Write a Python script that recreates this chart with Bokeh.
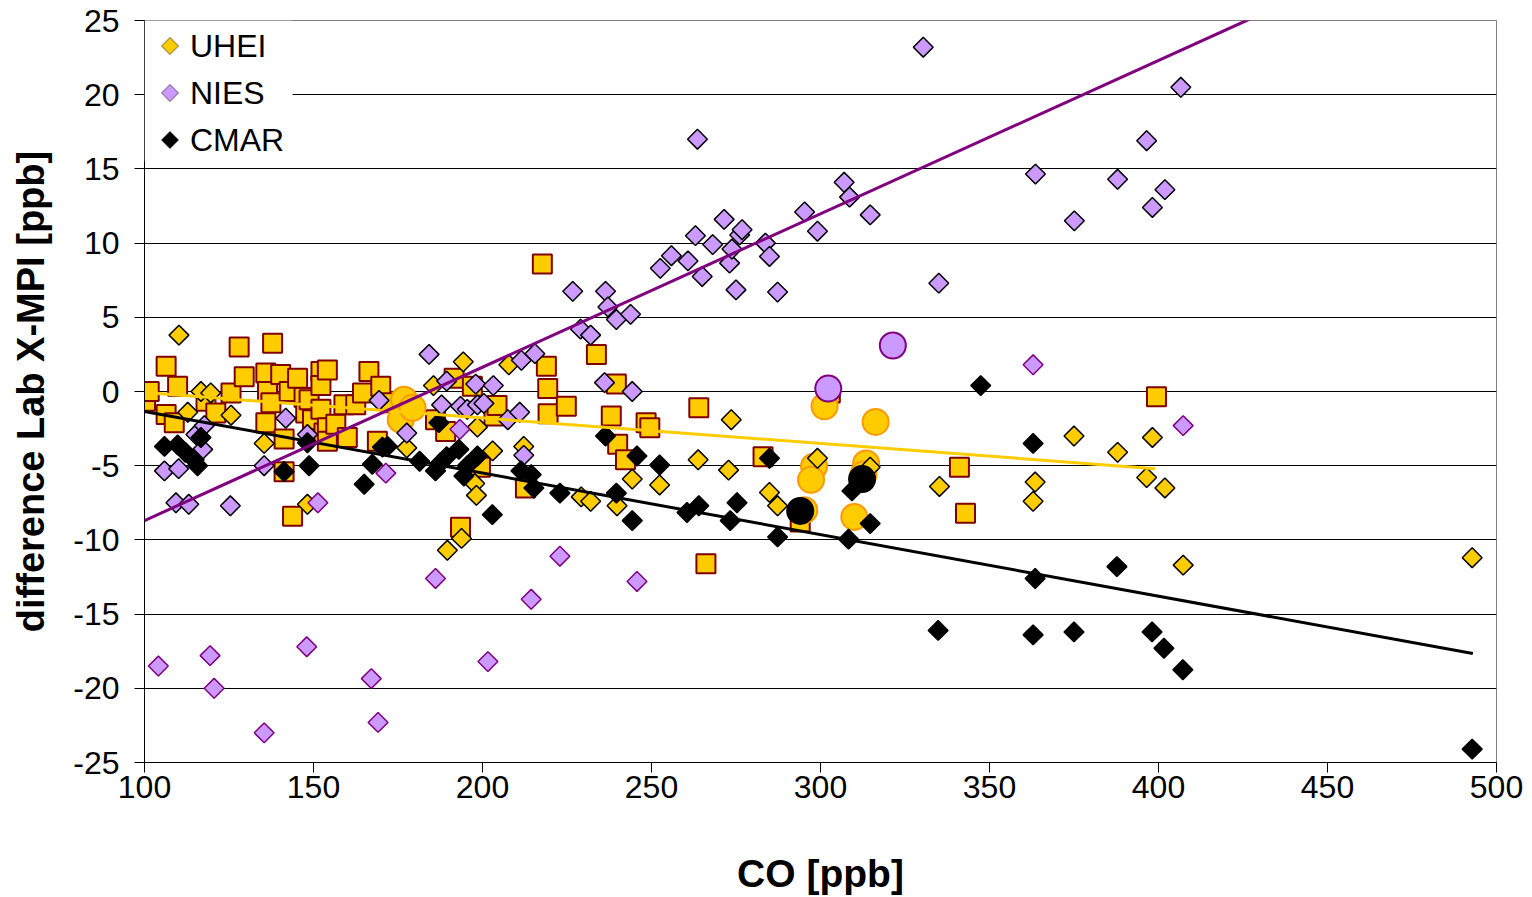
import numpy as np
from bokeh.plotting import figure
from bokeh.models import Legend, LegendItem, Range1d, FixedTicker, PolyAnnotation, BoxAnnotation
from bokeh.embed import file_html
from bokeh.resources import INLINE

# ---------------- data ----------------
x_ticks = [100, 150, 200, 250, 300, 350, 400, 450, 500]
y_ticks = [-25, -20, -15, -10, -5, 0, 5, 10, 15, 20, 25]
y_tick_labels = ["-25", "-20", "-15", "-10", "-5", "0", "5", "10", "15", "20", "25"]

# UHEI (diamonds)
uhei_x = [110.2, 112.8, 116.7, 119.6, 125.6, 135.4, 148.2, 177.6, 185.5, 189.6, 193.8, 194.3,
          197.7, 198.2, 198.5, 203.0, 207.8, 212.2, 229.2, 232.0, 239.8, 244.3, 252.4, 263.8,
          272.8, 273.6, 284.9, 287.3, 299.1, 314.7, 335.2, 362.9, 363.5, 375.0, 387.9, 396.5,
          398.2, 401.9, 407.3, 492.8]
uhei_y = [3.8, -1.4, 0.0, -0.1, -1.6, -3.5, -7.6, -3.8, 0.4, -10.7, -9.9, 2.0,
          -6.2, -7.0, -2.4, -4.0, 1.8, -3.7, -7.1, -7.4, -7.7, -5.9, -6.3, -4.6,
          -5.3, -1.9, -6.8, -7.7, -4.5, -5.1, -6.4, -7.4, -6.1, -3.0, -4.1, -5.8,
          -3.1, -6.5, -11.7, -11.2]

# UHEI (squares)
uhei_sq_x = [100.3, 101.4, 106.4, 106.4, 108.8, 109.8, 118.2, 121.1, 125.6, 128.0, 129.5, 135.9,
             135.9, 136.4, 137.4, 137.9, 140.3, 141.3, 141.3, 143.8, 142.8, 145.3, 147.2, 147.7,
             148.7, 149.7, 152.2, 152.2, 152.2, 153.1, 154.1, 154.1, 154.1, 156.6, 159.0, 160.0,
             162.5, 164.5, 166.4, 168.9, 169.9, 172.8, 186.1, 189.1, 191.6, 193.5, 197.0, 199.4,
             203.4, 204.3, 212.7, 217.7, 218.9, 219.3, 219.4, 224.8, 233.7, 238.1, 239.6, 240.0,
             242.3, 248.4, 249.5, 264.0, 266.1, 283.0, 294.0, 302.9, 341.1, 342.9, 399.4]
uhei_sq_y = [-0.65, 0.0, 1.7, -1.55, -2.1, 0.35, -0.65, -1.45, -0.1, 3.0, 1.0, 1.25,
             -2.1, 0.0, -0.75, 3.25, 1.15, -3.2, -5.4, -8.4, 0.0, 0.9, -0.4, -1.45,
             -0.55, -1.9, 1.35, 0.4, -1.2, -2.8, 1.45, -2.45, -3.35, -2.2, -0.9, -3.1,
             -0.9, -0.1, 1.35, -3.35, 0.35, -0.75, -1.9, -2.7, 0.9, -9.15, 0.35, -5.1,
             -1.65, -0.95, -6.5, 8.6, 1.7, 0.2, -1.5, -1.0, 2.5, -1.65, 0.5, -3.55,
             -4.6, -2.1, -2.45, -1.1, -11.6, -4.4, -8.8, -0.1, -5.1, -8.2, -0.35]

# UHEI (circles)
uhei_c_x = [176.8, 175.8, 179.3, 301.2, 316.3, 298.1, 297.2, 313.5, 312.7, 295.2, 310.0]
uhei_c_y = [-0.55, -1.9, -1.1, -1.0, -2.05, -5.05, -5.95, -4.85, -5.6, -8.0, -8.45]

# NIES (diamonds, black outline)
nies_x = [105.9, 110.1, 109.3, 113.1, 115.2, 117.7, 117.2, 125.4, 135.4, 141.8, 148.2, 169.4,
          177.6, 184.2, 187.9, 189.4, 193.5, 195.5, 198.0, 198.5, 200.4, 203.2, 207.5, 211.0,
          211.5, 212.2, 215.5, 226.7, 229.0, 232.0, 236.4, 237.1, 239.6, 243.8, 236.1, 244.3,
          252.6, 255.9, 260.8, 263.0, 263.6, 265.0, 268.1, 271.5, 273.1, 273.8, 275.0, 276.1,
          276.8, 283.7, 284.9, 287.3, 295.3, 299.1, 307.0, 308.6, 314.7, 330.4, 335.0, 363.6,
          375.1, 387.9, 396.5, 398.2, 401.9, 406.6]
nies_y = [-5.35, -5.2, -7.5, -7.6, -2.9, -2.3, -3.9, -7.7, -5.0, -1.8, -2.9, -0.6,
          -2.8, 2.5, -0.9, 0.7, -1.0, -1.2, 0.5, -0.9, -0.8, 0.4, -1.9, -1.4,
          2.1, -4.3, 2.55, 6.75, 4.2, 3.8, 6.75, 5.7, 4.85, 5.2, 0.6, 0.0,
          8.3, 9.15, 8.8, 10.5, 17.0, 7.75, 9.9, 11.6, 8.65, 9.6, 6.85, 10.55,
          10.9, 10.0, 9.1, 6.7, 12.1, 10.8, 14.1, 13.1, 11.9, 23.2, 7.3, 14.65,
          11.5, 14.3, 16.9, 12.4, 13.6, 20.5]

# NIES (diamonds, purple outline)
nies_b_x = [104.1, 119.4, 120.6, 135.4, 148.0, 151.3, 167.1, 169.1, 171.4, 186.1, 193.3, 201.6,
            214.4, 222.9, 245.7, 362.9, 407.3]
nies_b_y = [-18.5, -17.8, -20.0, -23.0, -17.2, -7.5, -19.35, -22.3, -5.5, -12.6, -2.55, -18.2,
            -14.0, -11.1, -12.8, 1.8, -2.3]

# NIES (circles)
nies_c_x = [302.3, 321.4]
nies_c_y = [0.2, 3.1]

# CMAR (diamonds)
cmar_x = [105.9, 109.8, 112.1, 114.7, 115.7, 116.7, 141.3, 148.7, 148.2, 165.0, 167.4, 170.4,
          171.9, 181.4, 186.1, 187.1, 187.6, 189.4, 193.0, 194.5, 195.5, 198.5, 202.9, 211.4,
          214.4, 215.2, 222.9, 236.4, 239.6, 244.3, 245.7, 252.4, 260.5, 264.0, 273.3, 275.3,
          284.9, 287.3, 308.3, 309.3, 314.7, 334.8, 347.4, 362.9, 363.5, 362.9, 375.0, 387.7,
          398.1, 401.6, 407.2, 492.8]
cmar_y = [-3.7, -3.6, -4.1, -4.6, -5.0, -3.1, -5.4, -5.0, -3.45, -6.25, -4.9, -3.75,
          -3.7, -4.7, -5.35, -2.1, -4.8, -4.4, -3.9, -5.7, -5.0, -4.35, -8.3, -5.35,
          -5.6, -6.5, -6.85, -3.0, -6.85, -8.7, -4.35, -4.95, -8.15, -7.7, -8.7, -7.5,
          -4.5, -9.8, -9.95, -6.7, -8.9, -16.1, 0.4, -3.5, -12.6, -16.4, -16.2, -11.8,
          -16.2, -17.3, -18.75, -24.1]

# CMAR (circles)
cmar_c_x = [294.0, 312.3]
cmar_c_y = [-8.05, -5.9]

# trend lines (end points)
uhei_fit_x = [102, 399]
uhei_fit_y = [-0.1, -5.2]
nies_fit_x = [100, 427]
nies_fit_y = [-8.7, 25.1]
cmar_fit_x = [100, 493]
cmar_fit_y = [-1.35, -17.65]

legend_labels = ["UHEI", "NIES", "CMAR"]

# ---------------- figure ----------------
FONT = "Liberation Sans"
YELLOW = "#FFCC00"
LILAC = "#CC99FF"
PURPLE = "#800080"

X0, X1, Y0, Y1 = 100, 500, -25, 25
BL, BR, BT, BB = 144, 34, 20, 133
W, H = 1530, 897

p = figure(width=W, height=H, output_backend="svg", toolbar_location=None,
           x_range=Range1d(X0, X1), y_range=Range1d(Y0, Y1),
           min_border_left=BL, min_border_right=BR, min_border_top=BT, min_border_bottom=BB)
p.background_fill_color = "white"
p.border_fill_color = "white"
p.outline_line_color = "#808080"
p.outline_line_width = 1

p.xaxis.ticker = FixedTicker(ticks=x_ticks)
p.yaxis.ticker = FixedTicker(ticks=y_ticks)
p.yaxis.major_label_overrides = {t: s for t, s in zip(y_ticks, y_tick_labels)}
p.xgrid.visible = False
p.ygrid.ticker = FixedTicker(ticks=y_ticks)
p.ygrid.grid_line_color = "black"
p.ygrid.grid_line_width = 1

for ax in (p.xaxis[0], p.yaxis[0]):
    ax.axis_line_color = "black"
    ax.axis_line_width = 1
    ax.major_tick_line_color = "black"
    ax.major_tick_out = 10
    ax.major_tick_in = 0
    ax.minor_tick_line_color = None
    ax.major_label_text_font = FONT
    ax.major_label_text_font_size = "32px"
    ax.major_label_text_color = "black"
    ax.axis_label_text_font = FONT
    ax.axis_label_text_font_style = "bold"
    ax.axis_label_text_color = "black"

p.xaxis.axis_label = "CO [ppb]"
p.yaxis.axis_label = "difference Lab X-MPI [ppb]"
p.xaxis.axis_label_text_font_size = "39px"
p.yaxis.axis_label_text_font_size = "38px"
p.xaxis.major_label_standoff = 3
p.yaxis.major_label_standoff = 15
p.xaxis.axis_label_standoff = 51
p.yaxis.axis_label_standoff = 18

DIAM = dict(marker="square", angle=np.pi / 4, size=14, line_width=1.5)

p.scatter(uhei_sq_x, uhei_sq_y, marker="square", size=19, fill_color=YELLOW,
          line_color="#800000", line_width=2)
p.scatter(uhei_c_x, uhei_c_y, marker="circle", size=26, fill_color=YELLOW,
          line_color="#FF9900", line_width=2)
p.scatter(uhei_x, uhei_y, fill_color=YELLOW, line_color="black", **DIAM)
p.scatter(nies_x, nies_y, fill_color=LILAC, line_color="black", **DIAM)
p.scatter(nies_b_x, nies_b_y, fill_color=LILAC, line_color=PURPLE, **DIAM)
p.scatter(cmar_x, cmar_y, fill_color="black", line_color="black", **DIAM)
p.scatter(nies_c_x, nies_c_y, marker="circle", size=26, fill_color=LILAC,
          line_color=PURPLE, line_width=2)
p.scatter(cmar_c_x, cmar_c_y, marker="circle", size=26, fill_color="black",
          line_color="black", line_width=2)

p.line(uhei_fit_x, uhei_fit_y, line_color=YELLOW, line_width=3)
p.line(cmar_fit_x, cmar_fit_y, line_color="black", line_width=3)
p.line(nies_fit_x, nies_fit_y, line_color=PURPLE, line_width=3)

# ---- legend ----
legend_fill = [YELLOW, LILAC, "black"]
proxies = [p.scatter(uhei_x[:1], uhei_y[:1], marker="diamond", fill_alpha=0,
                     line_alpha=0, visible=False) for _ in legend_fill]

PAD, GLYPH, SPACING = 8, 35, 10
fw = W - BL - BR
fh = H - BT - BB

def px_to_x(dx):
    return X0 + dx * (X1 - X0) / fw

def px_to_y(dy):
    return Y1 - dy * (Y1 - Y0) / fh

# white legend box (behind keys and text)
legend_w, legend_h = 148, 141
p.add_layout(BoxAnnotation(left=X0, right=px_to_x(legend_w), top=Y1, bottom=px_to_y(legend_h),
                           fill_color="white", fill_alpha=1, line_alpha=0,
                           level="annotation"))

legend = Legend(items=[LegendItem(label=lab, renderers=[r]) for lab, r in zip(legend_labels, proxies)],
                location="top_left", margin=0, padding=PAD, spacing=SPACING,
                glyph_width=GLYPH, glyph_height=GLYPH, label_standoff=3,
                label_text_font=FONT, label_text_font_size="32px", label_text_color="black",
                border_line_alpha=0, background_fill_alpha=0,
                inactive_fill_alpha=0)
p.add_layout(legend)

# square-diamond keys (screen units: x from frame left, y from frame bottom)
half = 8.5
key_dx = PAD + GLYPH / 2
for i, fc in enumerate(legend_fill):
    key_dy = PAD + GLYPH / 2 + i * 47 + 2
    ky = fh - key_dy
    p.add_layout(PolyAnnotation(xs=[key_dx, key_dx + half, key_dx, key_dx - half],
                                ys=[ky + half, ky, ky - half, ky],
                                xs_units="screen", ys_units="screen",
                                fill_color=fc, fill_alpha=1,
                                line_color="black", line_width=1.5, level="overlay"))

open("out.html", "w").write(file_html(p, INLINE))
